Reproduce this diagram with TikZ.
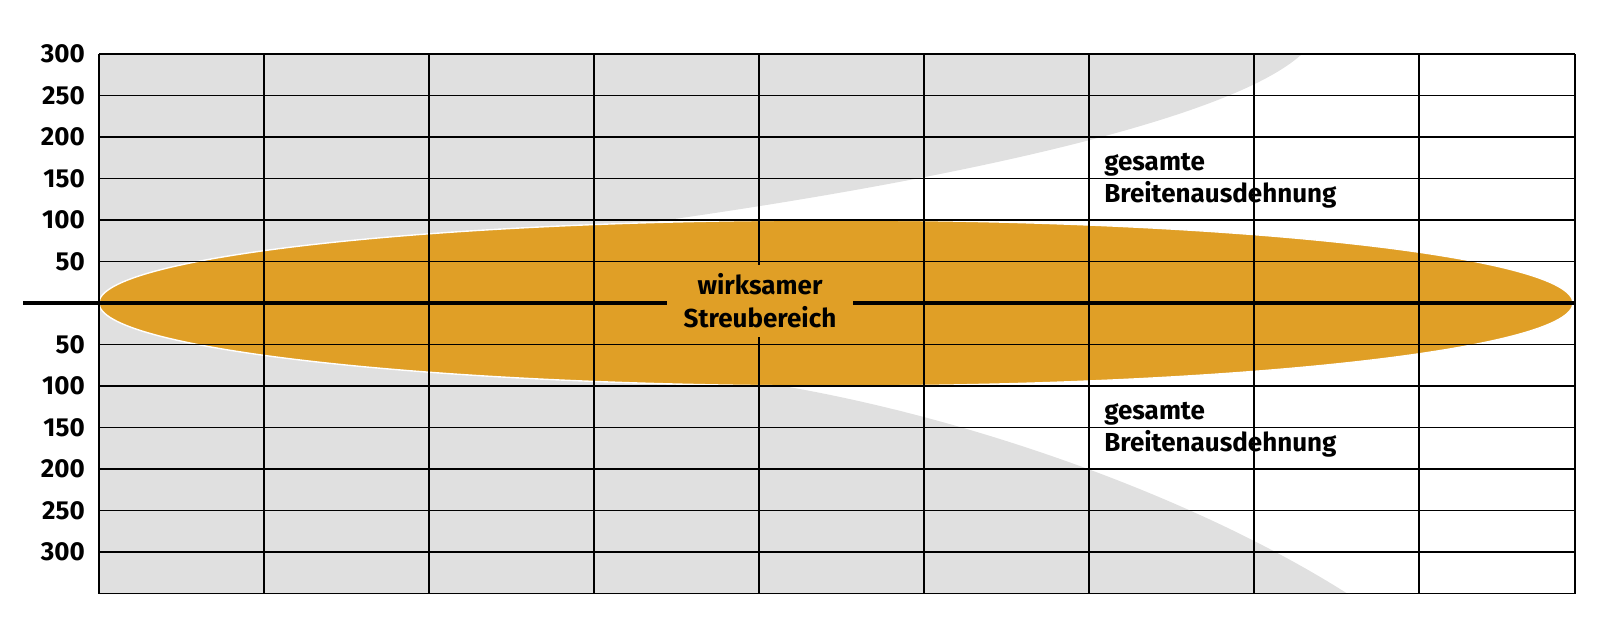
\documentclass[tikz,border=0pt]{standalone}
\usepackage{fontspec}
\setmainfont{Fira Sans}
\usepackage{xcolor}
\definecolor{streu}{HTML}{E09F26}
\definecolor{grau}{HTML}{E0E0E0}

\begin{document}
\begin{tikzpicture}[x=0.025cm,y=-0.025cm,
    ylab/.style={anchor=east,font=\bfseries\fontsize{18.5}{20}\selectfont,inner sep=0pt},
    note/.style={anchor=west,align=left,font=\bfseries\fontsize{18.5}{22.5}\selectfont,inner sep=0pt}]
            \useasboundingbox (0,0) rectangle (1600,640);
            \fill[grau] (99,54) -- (1302,54) .. controls (1230,120) and (950,180) .. (660,221)
                -- (600,240) -- (600,303) -- (99,303) -- cycle; % oben
            \fill[grau] (99,303) -- (740,303) -- (740,375) -- (783,386)
                .. controls (980,420) and (1200,500) .. (1348,594) -- (99,594) -- cycle; % unten
            \draw[white,line width=1pt,fill=streu] (836,303) ellipse [x radius=737,y radius=83];
            \foreach \i in {0,...,8}
            \draw[line width=0.9pt] ({99+165*\i},54) -- ({99+165*\i},594);
            \draw[line width=0.9pt] (1575,54) -- (1575,594);
            \foreach \j in {0,...,13}
            \draw[line width=0.9pt] (99,{54+41.5*\j}) -- (1575,{54+41.5*\j});
            \draw[line width=2.6pt] (23,303) -- (1575,303); % achse
            \node[fill=streu,minimum width=4.65cm,minimum height=1.775cm,align=center,inner sep=0pt,
                font=\bfseries\fontsize{18.5}{23.5}\selectfont] (streu) at (760,301) {wirksamer\\Streubereich};
            \node[note] (gesamtoben) at (1104,181) {gesamte\\Breitenausdehnung};
            \node[note] (gesamtunten) at (1104,430) {gesamte\\Breitenausdehnung};
            \foreach \v [count=\j from 0] in {300,250,200,150,100,50}
            \node[ylab] (yo\j) at (85,{54+41.5*\j}) {\v};
            \foreach \v [count=\j from 7] in {50,100,150,200,250,300}
            \node[ylab] (yu\j) at (85,{54+41.5*\j}) {\v};
\end{tikzpicture}
\end{document}
